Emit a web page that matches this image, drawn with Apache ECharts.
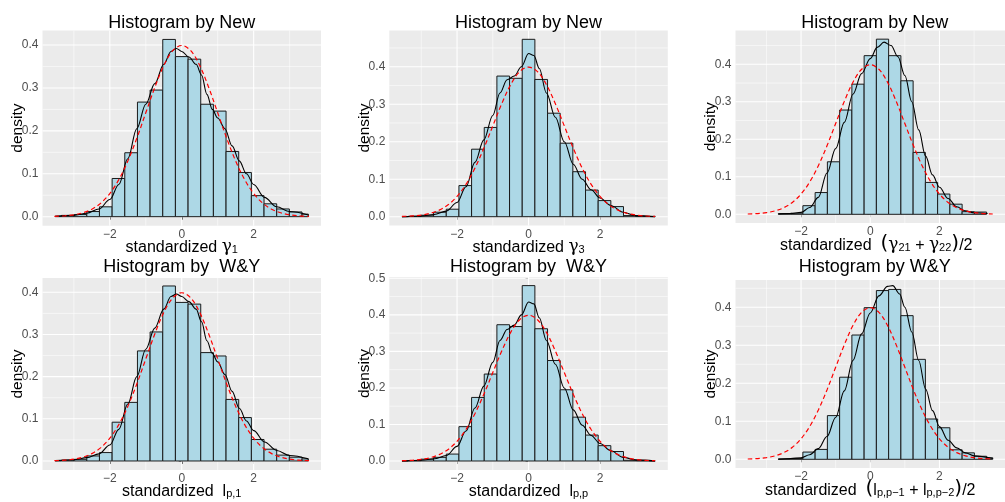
<!DOCTYPE html>
<html>
<head>
<meta charset="utf-8">
<title>Histograms</title>
<script src="https://cdn.jsdelivr.net/npm/echarts@6/dist/echarts.min.js"></script>
<style>
  html, body { margin: 0; padding: 0; background: #fff; }
  #chart { width: 1005px; height: 502px; }
</style>
</head>
<body>
<div id="chart"></div>
<script>
// bin centres, two bin widths (0.352 and 0.354)
const binsA = [-3.52, -3.168, -2.816, -2.464, -2.112, -1.76, -1.408, -1.056, -0.704, -0.352, 0,
  0.352, 0.704, 1.056, 1.408, 1.76, 2.112, 2.464, 2.816, 3.168, 3.52];
const binsB = [-3.54, -3.186, -2.832, -2.478, -2.124, -1.77, -1.416, -1.062, -0.708, -0.354, 0,
  0.354, 0.708, 1.062, 1.416, 1.77, 2.124, 2.478, 2.832, 3.186, 3.54];

// bar heights (density), null = no bar
const hist1 = [0.001, 0.003, 0.005, 0.012, 0.023, 0.089, 0.149, 0.267, 0.295, 0.413, 0.373,
  0.367, 0.262, 0.246, 0.152, 0.103, 0.049, 0.030, 0.018, 0.011, 0.006];
const hist2 = [0.000, 0.001, 0.004, 0.012, 0.020, 0.083, 0.180, 0.238, 0.375, 0.369, 0.473,
  0.366, 0.276, 0.196, 0.120, 0.071, 0.043, 0.027, 0.003, 0.001, 0.001];
const hist3 = [null, null, null, 0.002, 0.003, 0.023, 0.058, 0.140, 0.278, 0.347, 0.423,
  0.467, 0.423, 0.356, 0.165, 0.085, 0.054, 0.027, 0.007, 0.006, null];
const hist4 = [0.001, 0.002, 0.004, 0.012, 0.020, 0.092, 0.139, 0.261, 0.306, 0.415, 0.376,
  0.372, 0.257, 0.249, 0.146, 0.103, 0.051, 0.028, 0.014, 0.009, 0.005];
const hist5 = [0.000, 0.001, 0.005, 0.010, 0.019, 0.094, 0.174, 0.238, 0.373, 0.368, 0.480,
  0.362, 0.275, 0.195, 0.120, 0.071, 0.042, 0.026, 0.002, 0.001, 0.000];
const hist6 = [null, null, null, 0.001, 0.002, 0.019, 0.026, 0.115, 0.216, 0.327, 0.399,
  0.444, 0.447, 0.378, 0.263, 0.106, 0.083, 0.025, 0.017, 0.008, 0.004];

// kernel density (black line), [x, density]
const kde1 = [[-3.52, 0.001], [-3.0, 0.003], [-2.64, 0.008], [-2.3, 0.018], [-2.0, 0.04], [-1.75, 0.075],
  [-1.5, 0.135], [-1.25, 0.205], [-1.0, 0.262], [-0.75, 0.31], [-0.5, 0.355], [-0.3, 0.385], [-0.15, 0.392],
  [0.0, 0.385], [0.2, 0.372], [0.4, 0.355], [0.55, 0.33], [0.7, 0.285], [0.85, 0.25], [1.0, 0.23],
  [1.2, 0.205], [1.4, 0.165], [1.6, 0.13], [1.8, 0.1], [2.0, 0.075], [2.3, 0.045], [2.64, 0.023],
  [3.0, 0.012], [3.52, 0.004]];
const kde2 = [[-3.54, 0.0], [-3.0, 0.002], [-2.64, 0.006], [-2.3, 0.015], [-2.0, 0.038], [-1.75, 0.08],
  [-1.5, 0.145], [-1.25, 0.205], [-1.0, 0.27], [-0.8, 0.33], [-0.6, 0.365], [-0.4, 0.375], [-0.2, 0.4],
  [0.0, 0.435], [0.15, 0.43], [0.3, 0.395], [0.5, 0.33], [0.75, 0.265], [1.0, 0.2], [1.25, 0.14],
  [1.5, 0.1], [1.75, 0.072], [2.0, 0.05], [2.3, 0.03], [2.65, 0.012], [3.0, 0.003], [3.54, 0.0]];
const kde3 = [[-2.66, 0.001], [-2.3, 0.002], [-2.0, 0.005], [-1.75, 0.018], [-1.5, 0.045], [-1.25, 0.11],
  [-1.0, 0.175], [-0.75, 0.245], [-0.5, 0.32], [-0.25, 0.375], [0.0, 0.415], [0.2, 0.445], [0.4, 0.459],
  [0.6, 0.45], [0.8, 0.42], [1.0, 0.37], [1.2, 0.3], [1.4, 0.225], [1.6, 0.155], [1.8, 0.105],
  [2.0, 0.072], [2.25, 0.042], [2.5, 0.02], [2.75, 0.009], [3.0, 0.004], [3.39, 0.002]];
const kde4 = [[-3.52, 0.001], [-3.0, 0.003], [-2.64, 0.008], [-2.3, 0.017], [-2.0, 0.038], [-1.75, 0.075],
  [-1.5, 0.135], [-1.25, 0.2], [-1.0, 0.265], [-0.75, 0.315], [-0.5, 0.36], [-0.3, 0.39], [-0.15, 0.396],
  [0.0, 0.39], [0.2, 0.378], [0.4, 0.36], [0.55, 0.33], [0.7, 0.285], [0.85, 0.255], [1.0, 0.235],
  [1.2, 0.205], [1.4, 0.165], [1.6, 0.125], [1.8, 0.095], [2.0, 0.072], [2.3, 0.045], [2.64, 0.025],
  [3.0, 0.013], [3.52, 0.005]];
const kde5 = [[-3.54, 0.0], [-3.0, 0.002], [-2.64, 0.006], [-2.3, 0.015], [-2.0, 0.04], [-1.75, 0.082],
  [-1.5, 0.145], [-1.25, 0.205], [-1.0, 0.27], [-0.8, 0.33], [-0.6, 0.36], [-0.4, 0.372], [-0.2, 0.4],
  [0.0, 0.435], [0.15, 0.43], [0.3, 0.392], [0.5, 0.33], [0.75, 0.265], [1.0, 0.2], [1.25, 0.14],
  [1.5, 0.098], [1.75, 0.07], [2.0, 0.048], [2.3, 0.028], [2.65, 0.01], [3.0, 0.003], [3.54, 0.0]];
const kde6 = [[-2.66, 0.0], [-2.3, 0.002], [-2.0, 0.004], [-1.75, 0.012], [-1.5, 0.028], [-1.25, 0.06],
  [-1.0, 0.11], [-0.75, 0.18], [-0.5, 0.26], [-0.25, 0.33], [0.0, 0.385], [0.25, 0.43], [0.5, 0.455],
  [0.65, 0.457], [0.85, 0.435], [1.0, 0.4], [1.2, 0.335], [1.4, 0.26], [1.6, 0.185], [1.8, 0.128],
  [2.0, 0.086], [2.25, 0.05], [2.5, 0.03], [2.75, 0.017], [3.0, 0.009], [3.54, 0.002]];

// standard normal reference (red dashed)
const normX = [-3.54, -3.25, -3, -2.75, -2.5, -2.25, -2, -1.75, -1.5, -1.25, -1, -0.75, -0.5, -0.25, 0,
  0.25, 0.5, 0.75, 1, 1.25, 1.5, 1.75, 2, 2.25, 2.5, 2.75, 3, 3.25, 3.54];
const normY = [0.0008, 0.002, 0.0044, 0.0091, 0.0175, 0.0317, 0.054, 0.0863, 0.1295, 0.1826, 0.242, 0.3011,
  0.3521, 0.3867, 0.3989, 0.3867, 0.3521, 0.3011, 0.242, 0.1826, 0.1295, 0.0863, 0.054, 0.0317, 0.0175,
  0.0091, 0.0044, 0.002, 0.0008];

const xTicks = [-2, 0, 2];
const xMinor = [-3, -1, 1, 3];
const yTicks4 = [0, 0.1, 0.2, 0.3, 0.4];
const yTicks5 = [0, 0.1, 0.2, 0.3, 0.4, 0.5];
const yMinor = [0.05, 0.15, 0.25, 0.35, 0.45];

const titles = ['Histogram by New', 'Histogram by New', 'Histogram by New',
  'Histogram by  W&Y', 'Histogram by  W&Y', 'Histogram by W&Y'];
const xNames = [
  '{t|standardized }{g|γ}{s|1}',
  '{t|standardized }{g|γ}{s|3}',
  '{t|standardized  }{p|(}{g|γ}{s|21}{t| + }{g|γ}{s|22}{p|)}{t|/2}',
  '{t|standardized  }{t|l}{s|p,1}',
  '{t|standardized  }{t|l}{s|p,p}',
  '{t|standardized  }{p|(}{t|l}{s|p,p−1}{t| + }{t|l}{s|p,p−2}{p|)}{t|/2}'
];

const FONT = 'Liberation Sans';

const panels = [
  { bins: binsA, w: 0.352, lim: 3.52, hist: hist1, kde: kde1, yTicks: yTicks4, shift: 0,
    box: { left: 42.5, top: 30.5, width: 278.5, height: 195.2 }, x: [-3.872, 3.872], y: [-0.021, 0.4338] },
  { bins: binsB, w: 0.354, lim: 3.54, hist: hist2, kde: kde2, yTicks: yTicks4, shift: 0,
    box: { left: 389.3, top: 30.5, width: 278.5, height: 195.1 }, x: [-3.894, 3.894], y: [-0.0237, 0.4965] },
  { bins: binsB, w: 0.354, lim: 3.54, hist: hist3, kde: kde3, yTicks: yTicks4, shift: 12,
    box: { left: 735.5, top: 30.5, width: 278.5, height: 192.5 }, x: [-3.894, 3.894], y: [-0.0232, 0.4901] },
  { bins: binsA, w: 0.352, lim: 3.52, hist: hist4, kde: kde4, yTicks: yTicks4, shift: 0,
    box: { left: 42.5, top: 278, width: 278.5, height: 192 }, x: [-3.872, 3.872], y: [-0.02134, 0.4339] },
  { bins: binsB, w: 0.354, lim: 3.54, hist: hist5, kde: kde5, yTicks: yTicks5, shift: 0,
    box: { left: 389.3, top: 277, width: 278.5, height: 193 }, x: [-3.894, 3.894], y: [-0.0246, 0.5036] },
  { bins: binsB, w: 0.354, lim: 3.54, hist: hist6, kde: kde6, yTicks: yTicks4, shift: 0,
    box: { left: 735.5, top: 280, width: 278.5, height: 188 }, x: [-3.894, 3.894], y: [-0.0229, 0.4718] }
];

const fmtX = v => (v < 0 ? '\u2212' + (-v) : String(v));

const gridItem = (params, api) => {
  const cs = params.coordSys;
  const p = api.coord([api.value(0), api.value(1)]);
  const vertical = api.value(2) === 0;
  const shape = vertical
    ? { x1: p[0], y1: cs.y, x2: p[0], y2: cs.y + cs.height }
    : { x1: cs.x, y1: p[1], x2: cs.x + cs.width, y2: p[1] };
  return { type: 'line', shape, style: { stroke: '#ffffff', lineWidth: api.value(3) ? 1.1 : 0.55 } };
};

const barItem = (w, lim) => (params, api) => {
  const c = api.value(0);
  const h = api.value(1);
  const x0 = Math.max(c - w / 2, -lim);
  const x1 = Math.min(c + w / 2, lim);
  const p0 = api.coord([x0, h]);
  const p1 = api.coord([x1, 0]);
  return {
    type: 'rect',
    shape: { x: p0[0], y: p0[1], width: p1[0] - p0[0], height: p1[1] - p0[1] },
    style: { fill: '#ADD8E6', stroke: '#1a1a1a', lineWidth: 1 }
  };
};

const grids = [];
const xAxes = [];
const yAxes = [];
const series = [];
const graphics = [];

panels.forEach((pn, i) => {
  grids.push(Object.assign({ show: true, backgroundColor: '#EBEBEB', borderWidth: 0, containLabel: false }, pn.box));

  xAxes.push({
    type: 'value', gridIndex: i, min: pn.x[0], max: pn.x[1],
    axisLine: { show: false }, splitLine: { show: false },
    axisTick: { show: true, customValues: xTicks, length: 3, lineStyle: { color: '#333333', width: 1 } },
    axisLabel: { customValues: xTicks, formatter: fmtX, color: '#4D4D4D', fontSize: 12, fontFamily: FONT, margin: 3 },
    name: xNames[i], nameLocation: 'middle', nameGap: 9.5, nameMoveOverlap: false,
    nameTextStyle: {
      color: '#000', fontFamily: FONT, fontSize: 16, padding: [0, 0, 0, pn.shift],
      rich: {
        t: { fontSize: 16, fontFamily: FONT, color: '#000', verticalAlign: 'bottom', lineHeight: 20 },
        g: { fontSize: 17, fontFamily: 'DejaVu Serif', color: '#000', verticalAlign: 'bottom', lineHeight: 20 },
        s: { fontSize: 11, fontFamily: FONT, color: '#000', verticalAlign: 'bottom', lineHeight: 9 },
        p: { fontSize: 20, fontFamily: 'DejaVu Sans', color: '#000', verticalAlign: 'bottom', lineHeight: 21 }
      }
    }
  });

  yAxes.push({
    type: 'value', gridIndex: i, min: pn.y[0], max: pn.y[1],
    axisLine: { show: false }, splitLine: { show: false },
    axisTick: { show: true, customValues: pn.yTicks, length: 3, lineStyle: { color: '#333333', width: 1 } },
    axisLabel: { customValues: pn.yTicks, formatter: v => v.toFixed(1), color: '#4D4D4D', fontSize: 12, fontFamily: FONT, margin: 4 },
    name: 'density', nameLocation: 'middle', nameRotate: 90, nameGap: 17, nameMoveOverlap: false,
    nameTextStyle: { color: '#000', fontFamily: FONT, fontSize: 15.5 }
  });

  // background grid lines
  const lines = [];
  xTicks.forEach(v => lines.push([v, 0, 0, 1]));
  xMinor.forEach(v => lines.push([v, 0, 0, 0]));
  pn.yTicks.filter(v => v <= pn.y[1]).forEach(v => lines.push([0, v, 1, 1]));
  yMinor.filter(v => v <= pn.y[1]).forEach(v => lines.push([0, v, 1, 0]));
  series.push({
    type: 'custom', xAxisIndex: i, yAxisIndex: i, z: 1, silent: true,
    renderItem: gridItem, data: lines
  });

  series.push({
    type: 'custom', xAxisIndex: i, yAxisIndex: i, z: 2, silent: true,
    renderItem: barItem(pn.w, pn.lim),
    data: pn.bins.map((c, k) => [c, pn.hist[k]]).filter(d => d[1] !== null)
  });

  series.push({
    type: 'line', xAxisIndex: i, yAxisIndex: i, z: 3, silent: true,
    data: pn.kde, showSymbol: false, symbol: 'none', smooth: 0.35, smoothMonotone: 'x',
    lineStyle: { color: '#000', width: 1.1 }
  });

  series.push({
    type: 'line', xAxisIndex: i, yAxisIndex: i, z: 4, silent: true,
    data: normX.map((x, k) => [x, normY[k]]), showSymbol: false, symbol: 'none', smooth: 0.35,
    lineStyle: { color: '#FF0000', width: 1.2, type: [4.5, 3] }
  });

  // panel title centred over the plot
  graphics.push({
    type: 'text',
    x: pn.box.left + pn.box.width / 2,
    y: i < 3 ? 23 : 267.5,
    style: {
      text: titles[i], fontSize: 18, fontFamily: FONT, fill: '#000',
      align: 'center', verticalAlign: 'middle', textAlign: 'center', textVerticalAlign: 'middle'
    }
  });
});

const chart = echarts.init(document.getElementById('chart'), null, { renderer: 'canvas' });
chart.setOption({
  animation: false,
  backgroundColor: '#ffffff',
  grid: grids,
  xAxis: xAxes,
  yAxis: yAxes,
  series: series,
  graphic: graphics
});
</script>
</body>
</html>
